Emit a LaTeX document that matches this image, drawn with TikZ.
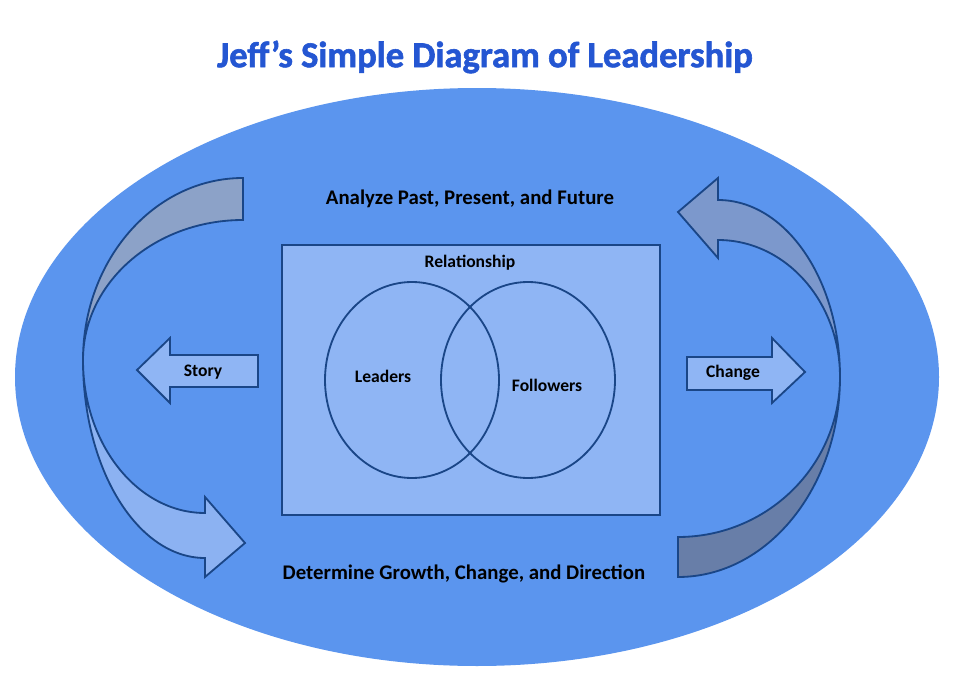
\documentclass[tikz,border=0pt]{standalone}
\usepackage{fontspec}
\setmainfont{Carlito}
\newfontfamily\heavyfont[FakeBold=1.6]{Carlito Bold}
\usepackage{tikz}
\usetikzlibrary{calc}

\definecolor{skyfill}{RGB}{91,149,238}
\definecolor{boxfill}{RGB}{143,181,244}
\definecolor{edgeblue}{RGB}{26,70,135}
\definecolor{titleblue}{RGB}{36,86,210}
\definecolor{backgray}{RGB}{140,162,200}
\definecolor{frontlight}{RGB}{140,178,242}
\definecolor{backmid}{RGB}{124,152,204}
\definecolor{backdark}{RGB}{104,126,168}

\tikzset{
  outline/.style={draw=edgeblue, line width=1.3pt},
  label/.style={font=\bfseries\fontsize{12.5}{14}\selectfont, text=black},
  caption/.style={font=\bfseries\fontsize{14.8}{17}\selectfont, text=black}
}

\begin{document}
\begin{tikzpicture}[x=0.025cm, y=-0.025cm]
        
        % --- CANVAS ---
        \useasboundingbox (0,0) rectangle (975,684);
        \fill[white] (0,0) rectangle (975,684);
        
        % --- BIG ELLIPSE ---
        \fill[skyfill] (477,377) ellipse [x radius=462, y radius=289];
        
        % --- RELATIONSHIP BOX AND VENN ---
        \draw[outline, fill=boxfill] (282,245) rectangle (660,515);
        \draw[outline] (412,380) ellipse [x radius=87, y radius=98];
        \draw[outline] (528,380) ellipse [x radius=87, y radius=98];
        
        % --- LEFT CURVED ARROW ---
        % back side (top)
        \draw[outline, fill=backgray] (243,178)
            arc[start angle=-90, end angle=-180, x radius=160, y radius=182]
            arc[start angle=180, end angle=270, x radius=160, y radius=140] -- cycle;
        % front side with head (bottom)
        \draw[outline, fill=frontlight, line join=miter] (83,360)
            arc[start angle=180, end angle=90, x radius=122, y radius=198]
            -- (205,577) -- (245,543) -- (205,497) -- (205,513)
            arc[start angle=90, end angle=180, x radius=122, y radius=153] -- cycle;
        
        % --- RIGHT CURVED ARROW ---
        % head side (top)
        \draw[outline, fill=backmid, line join=miter] (718,200)
            arc[start angle=-90, end angle=0, x radius=122, y radius=177]
            arc[start angle=0, end angle=-90, x radius=122, y radius=137]
            -- (718,258) -- (678,212) -- (718,178) -- cycle;
        % tail side (bottom)
        \draw[outline, fill=backdark] (840,377)
            arc[start angle=0, end angle=90, x radius=162, y radius=200]
            -- (678,537)
            arc[start angle=90, end angle=0, x radius=162, y radius=160] -- cycle;
        
        % --- STRAIGHT ARROWS ---
        \draw[outline, fill=boxfill, line join=miter] (258,355) -- (170,355) -- (170,338)
            -- (137,370) -- (170,403) -- (170,387) -- (258,387) -- cycle;
        \draw[outline, fill=boxfill, line join=miter] (687,357) -- (772,357) -- (772,338)
            -- (805,372) -- (772,403) -- (772,390) -- (687,390) -- cycle;
        
        % --- TEXTS ---
        \node[font=\heavyfont\fontsize{26}{30}\selectfont, text=titleblue] (title) at (485,57) {Jeff’s Simple Diagram of Leadership};
        \node[caption] (analyze) at (470,199) {Analyze Past, Present, and Future};
        \node[caption] (determine) at (464,574) {Determine Growth, Change, and Direction};
        \node[label] (relationship) at (470,263) {Relationship};
        \node[label] (leaders) at (383,376) {Leaders};
        \node[label] (followers) at (547,385) {Followers};
        \node[label] (story) at (203,372) {Story};
        \node[label] (change) at (733,373) {Change};
        
    \end{tikzpicture}
\end{document}
